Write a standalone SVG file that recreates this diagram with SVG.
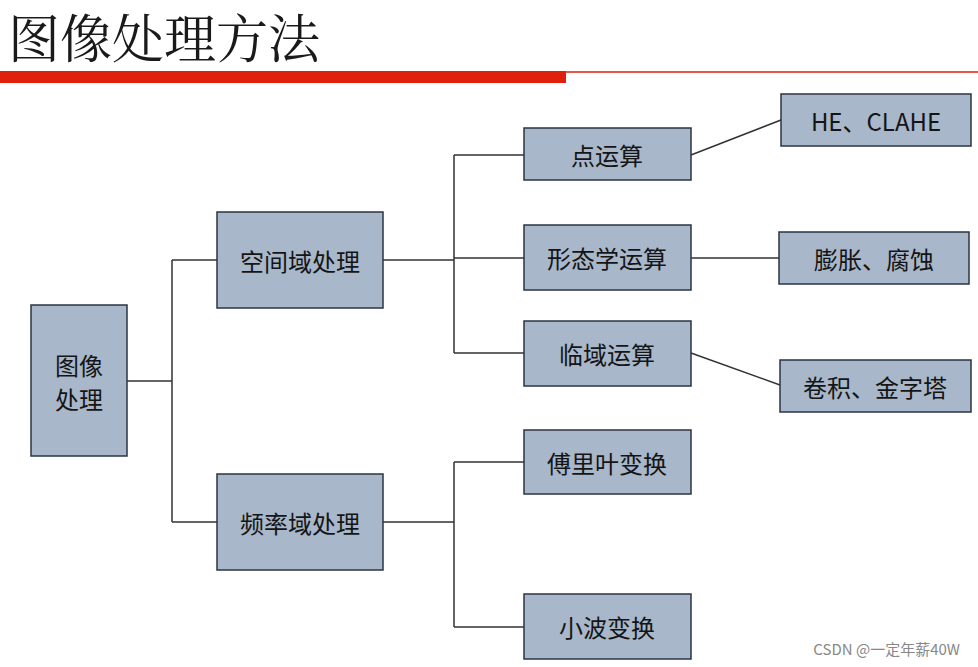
<svg xmlns="http://www.w3.org/2000/svg" width="978" height="667" viewBox="0 0 978 667">
<style>
.b{fill:#a8b7ca;stroke:#2c3440;stroke-width:1.5}
.t{font-family:"Noto Sans CJK SC","Liberation Sans",sans-serif;font-size:24px;fill:#151515;text-anchor:middle;dominant-baseline:central}
.c{fill:none;stroke:#333;stroke-width:1.5}
</style>
<rect width="978" height="667" fill="#fff"/>
<text x="8" y="58" font-family="Liberation Serif,'Noto Serif CJK SC','Noto Sans CJK SC',serif" font-size="52" fill="#1a1a1a">图像处理方法</text>
<rect x="0" y="71" width="566" height="12" fill="#e0200d"/>
<line x1="566" y1="72" x2="978" y2="72" stroke="#e0200d" stroke-width="1.5"/>
<g id="connectors">
<path class="c" d="M127 381H172M172 260V522M172 260H217M172 522H217"/>
<path class="c" d="M383 260H454M454 155V353M454 155H524M454 258H524M454 353H524"/>
<path class="c" d="M383 522H454M454 462V627M454 462H524M454 627H524"/>
<path class="c" d="M691 155L781 120M691 258H779M691 353L780 385"/>
</g>
<g id="n1"><rect class="b" x="31" y="305" width="96" height="151"/><text class="t" x="79" y="364">图像</text><text class="t" x="79" y="398">处理</text></g>
<g id="n2"><rect class="b" x="217" y="212" width="166" height="96"/><text class="t" x="300" y="260">空间域处理</text></g>
<g id="n3"><rect class="b" x="217" y="474" width="166" height="96"/><text class="t" x="300" y="522">频率域处理</text></g>
<g id="n4"><rect class="b" x="524" y="128" width="167" height="52"/><text class="t" x="607" y="154">点运算</text></g>
<g id="n5"><rect class="b" x="524" y="225" width="167" height="65"/><text class="t" x="607" y="257">形态学运算</text></g>
<g id="n6"><rect class="b" x="524" y="321" width="167" height="65"/><text class="t" x="607" y="353">临域运算</text></g>
<g id="n7"><rect class="b" x="524" y="430" width="167" height="64"/><text class="t" x="607" y="462">傅里叶变换</text></g>
<g id="n8"><rect class="b" x="524" y="594" width="167" height="65"/><text class="t" x="607" y="626">小波变换</text></g>
<g id="n9"><rect class="b" x="781" y="94" width="190" height="52"/><text class="t" x="876" y="120" font-family="Liberation Sans,'Noto Sans CJK SC',sans-serif">HE、CLAHE</text></g>
<g id="n10"><rect class="b" x="779" y="232" width="190" height="52"/><text class="t" x="874" y="258">膨胀、腐蚀</text></g>
<g id="n11"><rect class="b" x="780" y="360" width="191" height="52"/><text class="t" x="875" y="386">卷积、金字塔</text></g>
<text x="960" y="655" text-anchor="end" font-family="'Noto Sans CJK SC',sans-serif" font-size="15" fill="#888">CSDN @一定年薪40W</text>
</svg>
